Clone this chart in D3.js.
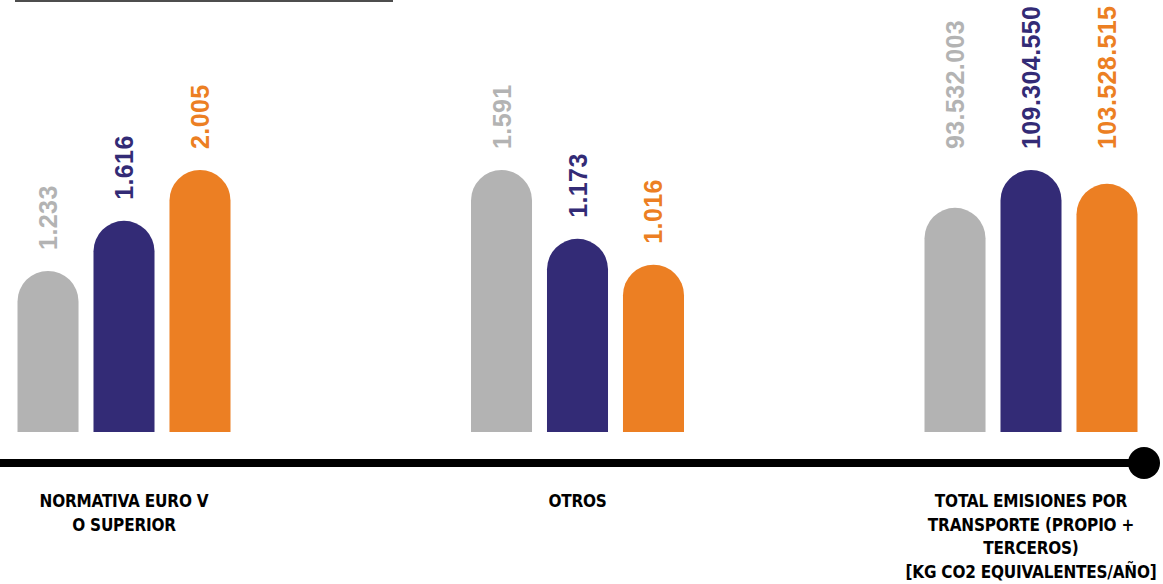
<!DOCTYPE html>
<html><head><meta charset="utf-8">
<script src="https://cdn.jsdelivr.net/npm/d3@7"></script>
<style>
html,body{margin:0;padding:0;background:#fff;}
svg{display:block;}
</style></head>
<body>
<svg id="chart" width="1163" height="584"></svg>
<script>
// ---- data ----
const categories = ["NORMATIVA EURO V|O SUPERIOR", "OTROS", "TOTAL EMISIONES POR|TRANSPORTE (PROPIO +|TERCEROS)|[KG CO2 EQUIVALENTES/AÑO]"];
const series = ["serie1", "serie2", "serie3"];
const values1 = [1233, 1591, 93532003];
const values2 = [1616, 1173, 109304550];
const values3 = [2005, 1016, 103528515];
const valueLabels1 = ["1.233", "1.591", "93.532.003"];
const valueLabels2 = ["1.616", "1.173", "109.304.550"];
const valueLabels3 = ["2.005", "1.016", "103.528.515"];
const colors = ["#b3b3b3", "#332b76", "#ec7f23"];

const allValues = [values1, values2, values3];
const allLabels = [valueLabels1, valueLabels2, valueLabels3];

const svg = d3.select("#chart");
const baseY = 432, topY = 170;

const x0 = d3.scalePoint().domain(categories).range([124, 1031]);
const x1 = d3.scaleBand().domain(series).range([-106.5, 106.5]).paddingInner(0.197).paddingOuter(0);
const bw = x1.bandwidth();
const r = bw / 2;

// top decorative rule
svg.append("line").attr("x1", 15).attr("x2", 393).attr("y1", 1).attr("y2", 1)
  .attr("stroke", "#4d4d4d").attr("stroke-width", 2);

categories.forEach((cat, ci) => {
  const vals = allValues.map(a => a[ci]);
  const labs = allLabels.map(a => a[ci]);
  const y = d3.scaleLinear().domain([0, d3.max(vals)]).range([baseY, topY]);
  const g = svg.append("g").attr("transform", `translate(${x0(cat)},0)`);
  const alignLabels = ci === 2;
  series.forEach((s, si) => {
    const v = vals[si];
    const xl = x1(s), yt = y(v);
    const path = `M${xl},${baseY} L${xl},${yt + r} A${r},${r} 0 0 1 ${xl + bw},${yt + r} L${xl + bw},${baseY} Z`;
    g.append("path").attr("d", path).attr("fill", colors[si]);
    const ly = (alignLabels ? y(d3.max(vals)) : yt) - 21;
    g.append("text")
      .attr("transform", `translate(${xl + r},${ly}) rotate(-90)`)
      .attr("text-anchor", "start")
      .attr("dy", "0.36em")
      .attr("fill", colors[si])
      .style("font-family", "'Liberation Sans',Arial,sans-serif")
      .style("font-weight", "bold")
      .style("font-size", "25px")
      .style("letter-spacing", "0.4px")
      .text(labs[si]);
  });
  const lines = cat.split("|");
  const t = g.append("text").attr("text-anchor", "middle")
    .attr("fill", "#000")
    .style("font-family", "'DejaVu Sans Condensed',sans-serif")
    .style("font-weight", "bold")
    .style("font-size", "17px")
    .style("letter-spacing", "-0.2px");
  lines.forEach((ln, li) => {
    t.append("tspan").attr("x", 0).attr("y", 507 + li * 23.7).text(ln);
  });
});

// axis line with end dot
svg.append("line").attr("x1", 0).attr("x2", 1144).attr("y1", 463).attr("y2", 463)
  .attr("stroke", "#000").attr("stroke-width", 8);
svg.append("circle").attr("cx", 1144).attr("cy", 463).attr("r", 16).attr("fill", "#000");
</script>
</body></html>
